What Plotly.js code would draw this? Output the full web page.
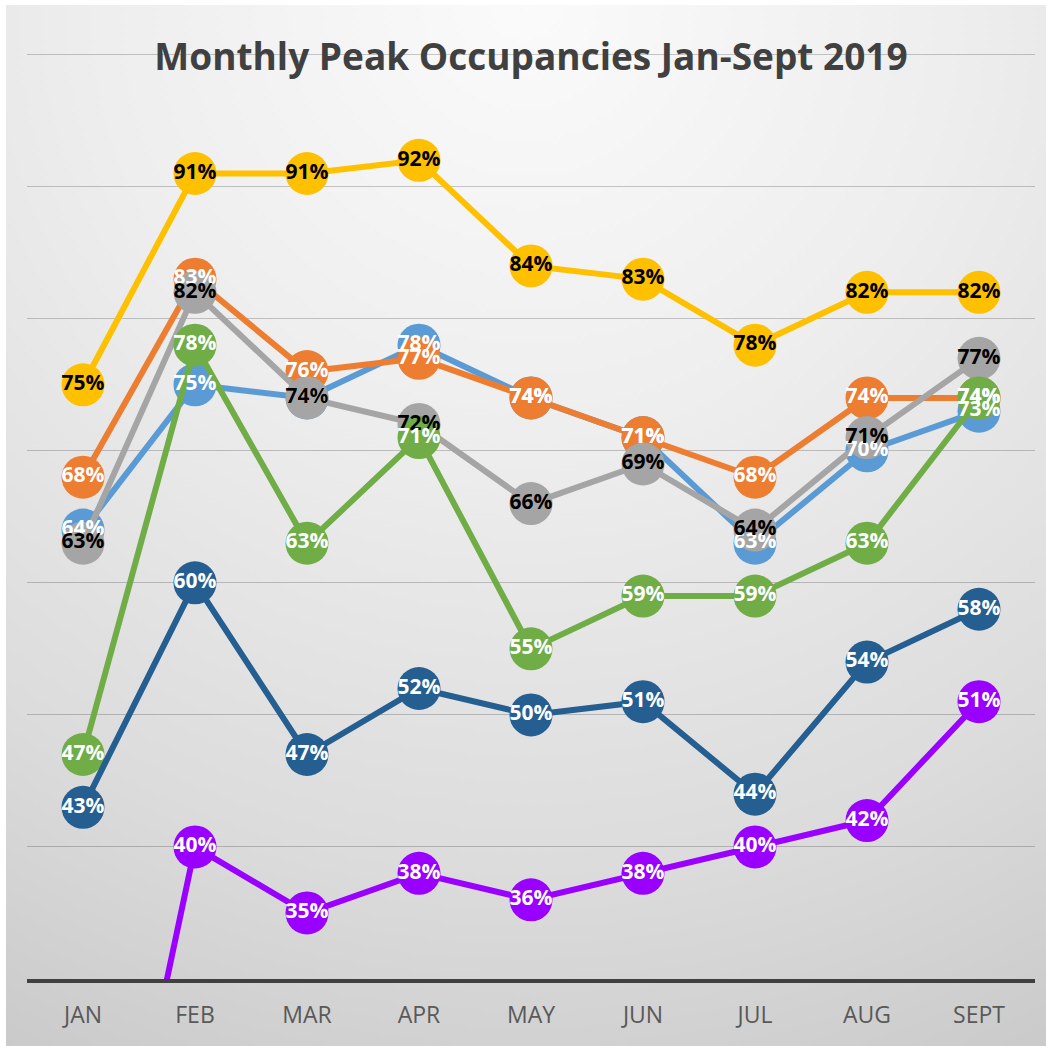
<!DOCTYPE html>
<html>
<head>
<meta charset="utf-8">
<script src="https://cdn.plot.ly/plotly-3.0.1.min.js"></script>
<style>
  html, body { margin: 0; padding: 0; background: #ffffff; }
  #chart { width: 1046px; height: 1046px; }
</style>
</head>
<body>
<div id="chart"></div>
<script>
// ---- data ----
const months = ["JAN", "FEB", "MAR", "APR", "MAY", "JUN", "JUL", "AUG", "SEPT"];

const seriesLightBlue = [64, 75, 74, 78, 74, 71, 63, 70, 73];
const seriesOrange    = [68, 83, 76, 77, 74, 71, 68, 74, 74];
const seriesGray      = [63, 82, 74, 72, 66, 69, 64, 71, 77];
const seriesYellow    = [75, 91, 91, 92, 84, 83, 78, 82, 82];
const seriesGreen     = [47, 78, 63, 71, 55, 59, 59, 63, 74];
const seriesDarkBlue  = [43, 60, 47, 52, 50, 51, 44, 54, 58];
const seriesPurple    = [0, 40, 35, 38, 36, 38, 40, 42, 51];

const titleText = "Monthly Peak Occupancies Jan-Sept 2019";

const Y_MIN = 30, Y_MAX = 100.2;

// ---- background gradient image ----
function makeBg() {
  const c = document.createElement('canvas');
  c.width = 520; c.height = 520;
  const ctx = c.getContext('2d');
  const g = ctx.createRadialGradient(260, 0, 0, 260, 0, 620);
  g.addColorStop(0, '#fbfbfb');
  g.addColorStop(0.35, '#eeeeee');
  g.addColorStop(0.7, '#dcdcdc');
  g.addColorStop(1, '#c6c6c6');
  ctx.fillStyle = g;
  ctx.fillRect(0, 0, 520, 520);
  return c.toDataURL('image/png');
}

function markerTrace(vals, color) {
  return {
    type: 'scatter',
    mode: 'lines+markers',
    x: months,
    y: vals,
    line: { color: color, width: 6 },
    marker: { color: color, size: 43, line: { width: 0 } },
    cliponaxis: true,
    hoverinfo: 'skip',
    showlegend: false
  };
}

function labelTrace(vals, textColor) {
  return {
    type: 'scatter',
    mode: 'text',
    x: months,
    y: vals,
    text: vals.map(v => (v >= Y_MIN ? v + '%' : '')),
    textposition: 'middle center',
    textfont: { family: 'Open Sans', size: 21, color: textColor, weight: 'bold' },
    cliponaxis: true,
    hoverinfo: 'skip',
    showlegend: false
  };
}

const series = [
  [seriesLightBlue, '#5B9BD5', '#ffffff'],
  [seriesOrange,    '#ED7D31', '#ffffff'],
  [seriesGray,      '#A5A5A5', '#000000'],
  [seriesYellow,    '#FFC000', '#000000'],
  [seriesGreen,     '#70AD47', '#ffffff'],
  [seriesDarkBlue,  '#255E91', '#ffffff'],
  [seriesPurple,    '#9900FF', '#ffffff']
];

const data = series.map(s => markerTrace(s[0], s[1]))
  .concat(series.map(s => labelTrace(s[0], s[2])));

const L = 27, R = 11, T = 52, B = 67, W = 1046, H = 1046;
const pw = W - L - R, ph = H - T - B;

const layout = {
  width: W, height: H,
  margin: { l: L, r: R, t: T, b: B, pad: 0 },
  paper_bgcolor: '#ffffff',
  plot_bgcolor: 'rgba(0,0,0,0)',
  title: {
    text: '<b>' + titleText + '</b>',
    font: { family: 'Open Sans', size: 37, color: '#404040' },
    xref: 'paper', x: 0.5, xanchor: 'center',
    yref: 'container', y: 1 - 57 / H, yanchor: 'middle'
  },
  xaxis: {
    type: 'category',
    range: [-0.5, 8.5],
    showgrid: false,
    zeroline: false,
    showline: true,
    linecolor: '#404040',
    linewidth: 4,
    ticks: '',
    tickfont: { family: 'Open Sans', size: 23, color: '#595959' },
    ticklabelstandoff: 12,
    fixedrange: true
  },
  yaxis: {
    range: [Y_MIN, Y_MAX],
    dtick: 10,
    tick0: 0,
    showgrid: true,
    gridcolor: 'rgba(0,0,0,0.2)',
    gridwidth: 1,
    zeroline: false,
    showline: false,
    showticklabels: false,
    ticks: '',
    fixedrange: true
  },
  images: [{
    source: makeBg(),
    xref: 'paper', yref: 'paper',
    x: (6 - L) / pw, y: (H - B - 5) / ph,
    sizex: (W - 6) / pw, sizey: (H - 5) / ph,
    xanchor: 'left', yanchor: 'top',
    sizing: 'stretch',
    layer: 'below'
  }]
};

Plotly.newPlot('chart', data, layout, { displayModeBar: false, staticPlot: true });
</script>
</body>
</html>
